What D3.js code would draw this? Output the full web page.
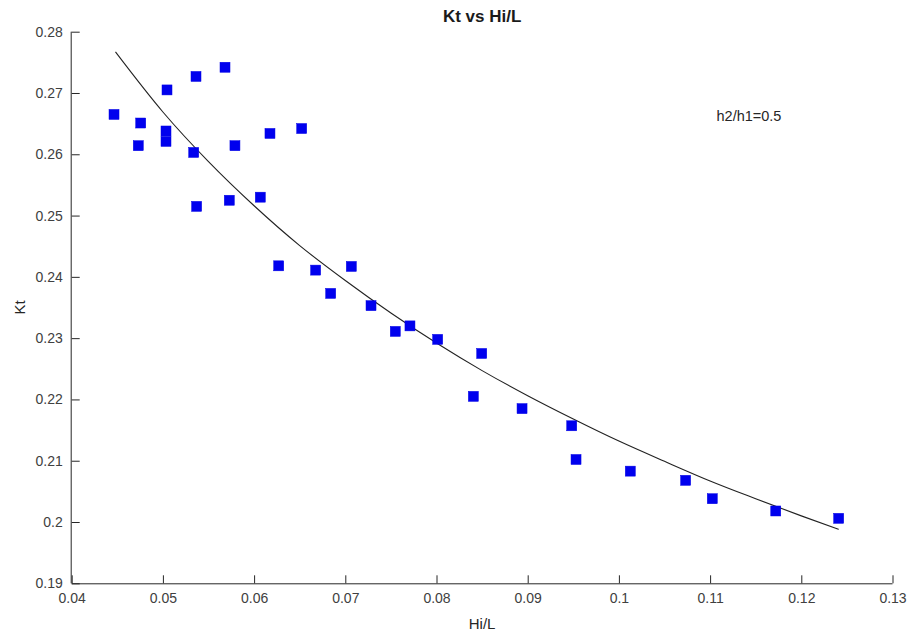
<!DOCTYPE html>
<html>
<head>
<meta charset="utf-8">
<script src="https://cdn.jsdelivr.net/npm/d3@7"></script>
<style>
  html, body { margin: 0; padding: 0; background: #fff; }
  svg { display: block; font-family: "Liberation Sans", Arial, sans-serif; }
</style>
</head>
<body>
<svg id="chart" width="909" height="635"></svg>
<script>
// Measured data points (Hi/L, Kt)
const pointX = [0.04464,0.04757,0.0473,0.05045,0.05034,0.05034,0.05363,0.05681,0.05338,0.0579,0.06174,0.06522,0.0537,0.05728,0.06068,0.0627,0.06675,0.07066,0.0684,0.07282,0.07548,0.07709,0.08013,0.08496,0.08404,0.08938,0.09483,0.0953,0.10125,0.10732,0.11024,0.1172,0.1241];
const pointY = [0.2665,0.2651,0.2614,0.2705,0.2638,0.2621,0.2727,0.2742,0.2603,0.2614,0.2634,0.2642,0.2515,0.2525,0.2530,0.2418,0.2411,0.2417,0.2373,0.2353,0.2311,0.2320,0.2298,0.2275,0.2205,0.2185,0.2157,0.2102,0.2083,0.2068,0.2038,0.2018,0.2006];

// Fitted curve
const curveX = [0.0448,0.050,0.055,0.060,0.065,0.070,0.075,0.080,0.085,0.090,0.095,0.100,0.105,0.110,0.115,0.120,0.1241];
const curveY = [0.2767,0.2669,0.2588,0.2516,0.2451,0.2394,0.2341,0.2292,0.2247,0.2206,0.2168,0.2132,0.2099,0.2067,0.2038,0.2010,0.1988];

const xTicks = [0.04,0.05,0.06,0.07,0.08,0.09,0.1,0.11,0.12,0.13];
const yTicks = [0.19,0.2,0.21,0.22,0.23,0.24,0.25,0.26,0.27,0.28];

const title = "Kt vs Hi/L";
const xLabel = "Hi/L";
const yLabel = "Kt";
const annotation = "h2/h1=0.5";

(function () {
const svg = d3.select("#chart");
const mLeft = 71.7, mRight = 892.5, mTop = 31.7, mBottom = 583.3;

const x = d3.scaleLinear().domain([0.04, 0.13]).range([mLeft, mRight]);
const y = d3.scaleLinear().domain([0.19, 0.28]).range([mBottom, mTop]);

const axisColor = "#262626";
const tickLen = 8;
const fmt = d => String(+d.toFixed(2));

// X axis
const xAxis = d3.axisBottom(x).tickValues(xTicks).tickFormat(fmt).tickSizeInner(-tickLen).tickSizeOuter(0).tickPadding(10);
const gx = svg.append("g").attr("transform", `translate(0,${mBottom})`).call(xAxis);
gx.select(".domain").attr("stroke", axisColor).attr("d", `M${mLeft},0.5H${mRight}`);
gx.selectAll(".tick line").attr("stroke", axisColor);
gx.selectAll(".tick text").attr("fill", "#404040").attr("font-size", "14px").attr("font-family", "Liberation Sans, Arial, sans-serif");

// Y axis
const yAxis = d3.axisLeft(y).tickValues(yTicks).tickFormat(fmt).tickSizeInner(-tickLen).tickSizeOuter(0).tickPadding(9);
const gy = svg.append("g").attr("transform", `translate(${mLeft},0)`).call(yAxis);
gy.select(".domain").attr("stroke", axisColor).attr("d", `M-0.5,${mTop}V${mBottom}`);
gy.selectAll(".tick line").attr("stroke", axisColor);
gy.selectAll(".tick text").attr("fill", "#404040").attr("font-size", "14px").attr("font-family", "Liberation Sans, Arial, sans-serif");

// Fitted curve
const curveData = curveX.map((d, i) => [d, curveY[i]]);
svg.append("path")
  .datum(curveData)
  .attr("fill", "none")
  .attr("stroke", "#222")
  .attr("stroke-width", 1.1)
  .attr("d", d3.line().x(d => x(d[0])).y(d => y(d[1])).curve(d3.curveMonotoneX));

// Points
const pts = pointX.map((d, i) => [d, pointY[i]]);
const size = 10;
svg.append("g").selectAll("rect")
  .data(pts)
  .join("rect")
  .attr("x", d => x(d[0]) - size / 2)
  .attr("y", d => y(d[1]) - size / 2)
  .attr("width", size)
  .attr("height", size)
  .attr("fill", "#0000ee")
  .attr("stroke", "#0000e6")
  .attr("stroke-width", 0.5);

// Title
svg.append("text")
  .attr("x", (mLeft + mRight) / 2).attr("y", 22)
  .attr("text-anchor", "middle")
  .attr("font-size", "17px").attr("font-weight", "bold")
  .attr("fill", "#1a1a1a")
  .text(title);

// X label
svg.append("text")
  .attr("x", (mLeft + mRight) / 2).attr("y", 629)
  .attr("text-anchor", "middle")
  .attr("font-size", "15px")
  .attr("fill", "#262626")
  .text(xLabel);

// Y label
svg.append("text")
  .attr("transform", `translate(25,${(mTop + mBottom) / 2}) rotate(-90)`)
  .attr("text-anchor", "middle")
  .attr("font-size", "15px")
  .attr("fill", "#262626")
  .text(yLabel);

// Annotation
svg.append("text")
  .attr("x", 716.5).attr("y", 121)
  .attr("font-size", "14.5px")
  .attr("fill", "#262626")
  .text(annotation);
})();
</script>
</body>
</html>
